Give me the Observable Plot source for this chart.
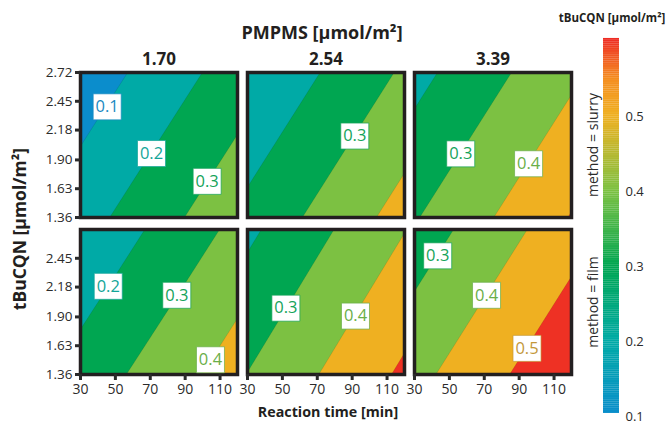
<!DOCTYPE html>
<html>
<head>
<meta charset="utf-8">
<script src="https://cdn.jsdelivr.net/npm/d3@7"></script>
<script src="https://cdn.jsdelivr.net/npm/@observablehq/plot@0.6"></script>
<style>
  html, body { margin: 0; padding: 0; background: #fff; }
  #wrap { position: relative; width: 672px; height: 425px; font-family: "Open Sans", sans-serif; color: #231f20; }
  #chart, #legend { position: absolute; top: 0; }
  #chart { left: 0; }
  #legend { left: 590px; }
  .t { position: absolute; white-space: nowrap; font-weight: bold; transform: translate(-50%, -50%); line-height: 1; }
</style>
</head>
<body>
<div id="wrap">
  <div id="chart"></div>
  <div id="legend"></div>
  <div class="t" style="left:322px; top:32px; font-size:18px;">PMPMS [μmol/m²]</div>
  <div class="t" style="left:328px; top:412px; font-size:14.3px;">Reaction time [min]</div>
  <div class="t" style="left:20px; top:229px; font-size:17.5px; transform: translate(-50%, -50%) rotate(-90deg);">tBuCQN [μmol/m²]</div>
  <div class="t" style="left:612px; top:18px; font-size:11.5px;">tBuCQN [μmol/m²]</div>
</div>
<script>
// ---- data ----
const pmpmsLevels = ["1.70", "2.54", "3.39"];
const methodLevels = ["slurry", "film"];
const timeDomain = [30, 120];
const tbucqnDomain = [1.36, 2.72];
const timeTicks = [30, 50, 70, 90, 110];
const tbucqnTicksTop = [1.36, 1.63, 1.90, 2.18, 2.45, 2.72];
const tbucqnTicksBottom = [1.36, 1.63, 1.90, 2.18, 2.45];
const contourLevels = [0, 0.1, 0.2, 0.3, 0.4, 0.5];
const bandBreaks = [0.1, 0.2, 0.3, 0.4, 0.5];
const bandColors = ["#0b8dcc", "#00aaa6", "#00a651", "#7cc142", "#efb021", "#ee3124"];

// response surface values at the four corners of each panel
const cellPmpms = ["1.70", "2.54", "3.39", "1.70", "2.54", "3.39"];
const cellMethod = ["slurry", "slurry", "slurry", "film", "film", "film"];
const zT30Y136 = [0.161, 0.226, 0.293, 0.239, 0.302, 0.371];
const zT120Y136 = [0.371, 0.438, 0.505, 0.448, 0.518, 0.584];
const zT30Y272 = [0.037, 0.102, 0.169, 0.114, 0.181, 0.247];
const zT120Y272 = [0.247, 0.314, 0.381, 0.324, 0.397, 0.460];

// contour labels
const labelPmpms = ["1.70", "1.70", "1.70", "2.54", "3.39", "3.39", "1.70", "1.70", "1.70", "2.54", "2.54", "3.39", "3.39", "3.39"];
const labelMethod = ["slurry", "slurry", "slurry", "slurry", "slurry", "slurry", "film", "film", "film", "film", "film", "film", "film", "film"];
const labelTime = [45.3, 70.7, 102.6, 91.5, 56.5, 95.4, 45.9, 85.2, 104.5, 52.0, 91.9, 43.3, 71.3, 94.5];
const labelTbucqn = [2.398, 1.960, 1.699, 2.124, 1.957, 1.864, 2.187, 2.103, 1.498, 1.982, 1.908, 2.473, 2.103, 1.605];
const labelLevel = [0.1, 0.2, 0.3, 0.3, 0.3, 0.4, 0.2, 0.3, 0.4, 0.3, 0.4, 0.3, 0.4, 0.5];
const labelInkLevels = [0.1, 0.2, 0.3, 0.4, 0.5];
const labelInkColors = ["#1b8ac2", "#12a598", "#15a35a", "#6aae48", "#c3983a"];

// colour bar
const colorTicks = [0.1, 0.2, 0.3, 0.4, 0.5];
const rampStops = [0.1, 0.2, 0.3, 0.4, 0.5, 0.55, 0.6];
const rampColors = ["#0b8dcc", "#00aaa6", "#00a651", "#7cc142", "#efb021", "#f48d20", "#ee3124"];
const rampRange = [0.105, 0.605];

// ---- build tables ----
const grid = [];
cellPmpms.forEach((p, i) => {
  const m = cellMethod[i];
  grid.push({pmpms: p, method: m, time: timeDomain[0], tbucqn: tbucqnDomain[0], z: zT30Y136[i]});
  grid.push({pmpms: p, method: m, time: timeDomain[1], tbucqn: tbucqnDomain[0], z: zT120Y136[i]});
  grid.push({pmpms: p, method: m, time: timeDomain[0], tbucqn: tbucqnDomain[1], z: zT30Y272[i]});
  grid.push({pmpms: p, method: m, time: timeDomain[1], tbucqn: tbucqnDomain[1], z: zT120Y272[i]});
});
const labels = labelLevel.map((v, i) => ({pmpms: labelPmpms[i], method: labelMethod[i], time: labelTime[i], tbucqn: labelTbucqn[i], level: v}));
const ink = (v) => labelInkColors[labelInkLevels.findIndex((l) => Math.abs(l - v) < 1e-9)];

const labelBox = {draw(ctx) { ctx.moveTo(-14, -13); ctx.lineTo(14, -13); ctx.lineTo(14, 13); ctx.lineTo(-14, 13); ctx.closePath(); }};

const chart = Plot.plot({
  width: 672, height: 425,
  marginLeft: 80, marginRight: 101, marginTop: 72, marginBottom: 50,
  style: {fontFamily: "Open Sans, sans-serif", background: "transparent", color: "#2b2b2b"},
  x: {domain: timeDomain},
  y: {domain: tbucqnDomain},
  fx: {domain: pmpmsLevels, paddingInner: 0.06, paddingOuter: 0},
  fy: {domain: methodLevels, paddingInner: 0.0762, paddingOuter: 0, axis: null},
  color: {type: "threshold", domain: bandBreaks, range: bandColors},
  marks: [
    Plot.contour(grid, {x: "time", y: "tbucqn", fill: "z", fx: "pmpms", fy: "method", thresholds: contourLevels, interpolate: "barycentric", pixelSize: 1, stroke: "#000", strokeOpacity: 0.12, strokeWidth: 0.8}),
    Plot.frame({stroke: "#231f20", strokeWidth: 3.5}),
    Plot.dot(labels, {x: "time", y: "tbucqn", fx: "pmpms", fy: "method", symbol: labelBox, r: 5, fill: "white", stroke: (d) => ink(d.level), strokeOpacity: 0.7, strokeWidth: 1}),
    Plot.text(labels, {x: "time", y: "tbucqn", fx: "pmpms", fy: "method", text: (d) => d.level.toFixed(1), fill: (d) => ink(d.level), fontSize: 16.5}),
    Plot.axisFx({anchor: "top", tickSize: 0, tickPadding: 8, fontSize: 17, fontWeight: "bold", label: null, color: "#231f20"}),
    Plot.axisX(timeTicks, {tickSize: 6, strokeWidth: 3, tickPadding: 4, fontSize: 14, label: null, color: "#2b2b2b"}),
    Plot.axisY(tbucqnTicksTop, {fx: () => "1.70", fy: () => "slurry", tickSize: 5, strokeWidth: 3, tickPadding: 3, fontSize: 13.5, tickFormat: ".2f", label: null, color: "#2b2b2b"}),
    Plot.axisY(tbucqnTicksBottom, {fx: () => "1.70", fy: () => "film", tickSize: 5, strokeWidth: 3, tickPadding: 3, fontSize: 13.5, tickFormat: ".2f", label: null, color: "#2b2b2b"}),
    Plot.text(methodLevels, {fx: () => "3.39", fy: (d) => d, text: (d) => "method = " + d, frameAnchor: "right", dx: 22, rotate: -90, textAnchor: "middle", lineAnchor: "middle", fontSize: 14, fill: "#2b2b2b"})
  ]
});
document.getElementById("chart").append(chart);

const rampSteps = d3.range(rampRange[0], rampRange[1], 0.0025);
const legend = Plot.plot({
  width: 70, height: 425,
  marginLeft: 13, marginRight: 41, marginTop: 41.7, marginBottom: 8.3,
  style: {fontFamily: "Open Sans, sans-serif", background: "transparent", color: "#2b2b2b"},
  x: {domain: [0, 1], axis: null},
  y: {domain: [0.1, 0.6]},
  color: {type: "linear", domain: rampStops, range: rampColors},
  marks: [
    Plot.rect(rampSteps, {x1: 0, x2: 1, y1: (d) => d, y2: (d) => Math.min(d + 0.0027, rampRange[1]), fill: (d) => d}),
    Plot.axisY(colorTicks, {anchor: "right", tickSize: 0, tickPadding: 6, fontSize: 13, label: null, tickFormat: ".1f"})
  ]
});
document.getElementById("legend").append(legend);
</script>
</body>
</html>
